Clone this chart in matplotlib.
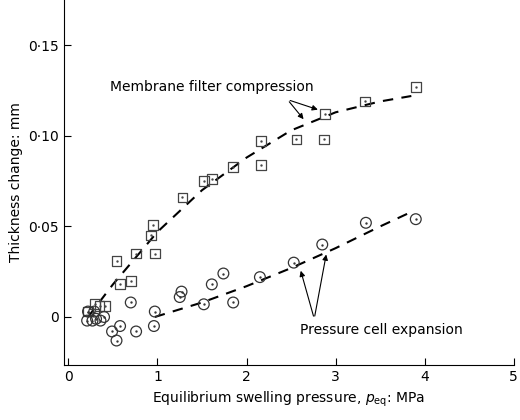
import numpy as np
import matplotlib
matplotlib.use("Agg")
import matplotlib.pyplot as plt
from matplotlib.ticker import FuncFormatter

# Membrane filter compression (squares)
sq_x = [3.90, 3.33, 2.88, 2.87, 2.56, 2.16, 2.16, 1.85, 1.61, 1.52, 1.28, 0.95,
        0.93, 0.76, 0.97, 0.54, 0.70, 0.58, 0.30, 0.41, 0.35, 0.22]
sq_y = [0.127, 0.119, 0.112, 0.098, 0.098, 0.097, 0.084, 0.083, 0.076, 0.075,
        0.066, 0.051, 0.045, 0.035, 0.035, 0.031, 0.020, 0.018, 0.007, 0.006,
        0.006, 0.003]

# Pressure cell expansion (circles)
ci_x = [3.90, 3.34, 2.85, 2.53, 2.15, 1.74, 1.61, 1.85, 1.52, 1.27, 1.25, 0.97,
        0.96, 0.70, 0.58, 0.49, 0.54, 0.76, 0.22, 0.21, 0.27, 0.31, 0.36, 0.40, 0.29]
ci_y = [0.054, 0.052, 0.040, 0.030, 0.022, 0.024, 0.018, 0.008, 0.007, 0.014,
        0.011, 0.003, -0.005, 0.008, -0.005, -0.008, -0.013, -0.008, 0.003,
        -0.002, -0.002, -0.001, -0.002, 0.000, 0.003]

# trend lines
fit_sq_x = [0.22, 0.5, 1.0, 1.5, 2.0, 2.5, 3.0, 3.5, 3.85]
fit_sq_y = [0.000, 0.018, 0.047, 0.070, 0.088, 0.103, 0.113, 0.119, 0.122]
fit_ci_x = [0.97, 1.5, 2.0, 2.5, 3.0, 3.5, 3.85]
fit_ci_y = [0.000, 0.008, 0.017, 0.027, 0.038, 0.050, 0.058]

fig = plt.figure(figsize=(5.2, 4.2), dpi=100)
ax = fig.add_axes([0.123, 0.131, 0.865, 0.869])

ax.plot(fit_sq_x, fit_sq_y, ls=(0, (5, 4)), color="black", lw=1.5)
ax.plot(fit_ci_x, fit_ci_y, ls=(0, (5, 4)), color="black", lw=1.5)
ax.scatter(sq_x, sq_y, marker="s", s=50, facecolors="none", edgecolors="#444444", lw=0.9, zorder=3)
ax.scatter(sq_x, sq_y, marker=".", s=2, color="#444444", zorder=3)
ax.scatter(ci_x, ci_y, marker="o", s=60, facecolors="none", edgecolors="#333333", lw=0.9, zorder=3)
ax.scatter(ci_x, ci_y, marker=".", s=2, color="#333333", zorder=3)

ax.text(0.47, 0.127, "Membrane filter compression", fontsize=10, va="center")
arr = dict(arrowstyle="-|>", color="black", lw=0.8, mutation_scale=8)
ax.annotate("", xy=(2.83, 0.114), xytext=(2.46, 0.120), arrowprops=arr)
ax.annotate("", xy=(2.66, 0.108), xytext=(2.46, 0.120), arrowprops=arr)
ax.text(2.6, -0.007, "Pressure cell expansion", fontsize=10, va="center")
ax.annotate("", xy=(2.60, 0.027), xytext=(2.76, -0.001), arrowprops=arr)
ax.annotate("", xy=(2.90, 0.036), xytext=(2.76, -0.001), arrowprops=arr)

ax.set_xlim(-0.05, 5.0)
ax.set_ylim(-0.0265, 0.175)
ax.set_xticks([0, 1, 2, 3, 4, 5])
ax.set_yticks([0, 0.05, 0.10, 0.15])
ax.yaxis.set_major_formatter(FuncFormatter(lambda v, p: "0" if v == 0 else f"{v:.2f}".replace(".", "·")))
ax.tick_params(direction="in", labelsize=10, length=5)
for s in ["top", "right"]:
    ax.spines[s].set_visible(False)
ax.set_xlabel("Equilibrium swelling pressure, $p_{\\mathrm{eq}}$: MPa", fontsize=10)
ax.set_ylabel("Thickness change: mm", fontsize=10)

fig.savefig("out.png", dpi=100)
